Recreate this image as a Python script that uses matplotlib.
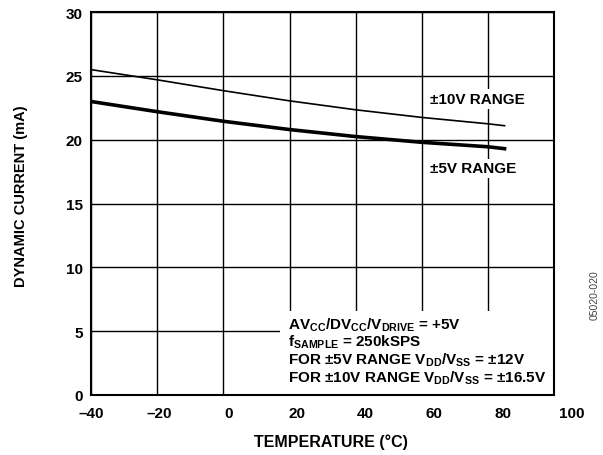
import matplotlib
matplotlib.use('Agg')
import matplotlib.pyplot as plt
from matplotlib.patches import Rectangle
from matplotlib.transforms import ScaledTranslation

# font setup - bold Arial-like everywhere, mathtext too for subscripts
plt.rcParams['font.family'] = ['Liberation Sans', 'DejaVu Sans']
plt.rcParams['font.weight'] = 'bold'
plt.rcParams['mathtext.fontset'] = 'custom'
plt.rcParams['mathtext.rm'] = 'Liberation Sans:bold'
plt.rcParams['mathtext.bf'] = 'Liberation Sans:bold'
plt.rcParams['mathtext.default'] = 'rm'

# data
temps = [-40, -20, 0, 20, 40, 60, 80, 85]
current_10v = [25.5, 24.7, 23.85, 23.05, 22.35, 21.75, 21.25, 21.1]
current_5v = [23.0, 22.2, 21.45, 20.8, 20.25, 19.8, 19.45, 19.3]
x_ticks = [-40, -20, 0, 20, 40, 60, 80, 100]
x_tick_labels = ['\u201340', '\u201320', '0', '20', '40', '60', '80', '100']
y_ticks = [0, 5, 10, 15, 20, 25, 30]

fig = plt.figure(figsize=(6.03, 4.56), dpi=100)
ax = fig.add_axes([0.151, 0.132, 0.768, 0.839])

ax.plot(temps, current_10v, color='black', linewidth=1.2, zorder=3)
ax.plot(temps, current_5v, color='black', linewidth=2.6, zorder=3)

ax.set_xlim(-40, 100)
ax.set_ylim(0, 30)
ax.set_xticks(x_ticks)
ax.set_xticklabels(x_tick_labels)
ax.set_yticks(y_ticks)
ax.tick_params(length=0, labelsize=11)
ax.tick_params(axis='y', pad=6)
ax.tick_params(axis='x', pad=8)
ax.grid(True, color='black', linewidth=1.0)
for s in ax.spines.values():
    s.set_linewidth(1.5)

# in the original the x labels drift a little to the right of the grid
for i, lbl in enumerate(ax.get_xticklabels()):
    lbl.set_transform(lbl.get_transform() + ScaledTranslation(i * 2.5 / 100, 0, fig.dpi_scale_trans))

ax.set_xlabel('TEMPERATURE (\u00b0C)', fontsize=11.5, fontweight='bold')
ax.set_ylabel('DYNAMIC CURRENT (mA)', fontsize=10.5, fontweight='bold')
ax.xaxis.set_label_coords(0.519, -0.1)
ax.yaxis.set_label_coords(-0.136, 0.522)

# curve labels, white boxes break the gridlines
box = dict(facecolor='white', edgecolor='none', pad=2)
ax.text(62.5, 22.9, '\u00b110V RANGE', fontsize=11, va='baseline', bbox=box, zorder=4)
ax.text(62.5, 17.45, '\u00b15V RANGE', fontsize=11, va='baseline', bbox=box, zorder=4)

# white area behind the conditions text
ax.add_patch(Rectangle((17.2, 0), 82.8, 6.6, facecolor='white', edgecolor='none', zorder=1.8))
ax.text(19.6, 5.23, r'AV$_{CC}$/DV$_{CC}$/V$_{DRIVE}$ = +5V', fontsize=11, va='baseline', zorder=4)
ax.text(19.6, 3.83, r'f$_{SAMPLE}$ = 250kSPS', fontsize=11, va='baseline', zorder=4)
ax.text(19.6, 2.42, 'FOR \u00b15V RANGE ' + r'V$_{DD}$/V$_{SS}$ = ' + '\u00b112V',
        fontsize=11, va='baseline', zorder=4)
ax.text(19.6, 1.05, 'FOR \u00b110V RANGE ' + r'V$_{DD}$/V$_{SS}$ = ' + '\u00b116.5V',
        fontsize=11, va='baseline', zorder=4)

fig.text(0.986, 0.352, '05020-020', rotation=90, fontsize=7.5, fontweight='normal',
         color='#444444', ha='center', va='center')

fig.savefig('out.png', dpi=100)
